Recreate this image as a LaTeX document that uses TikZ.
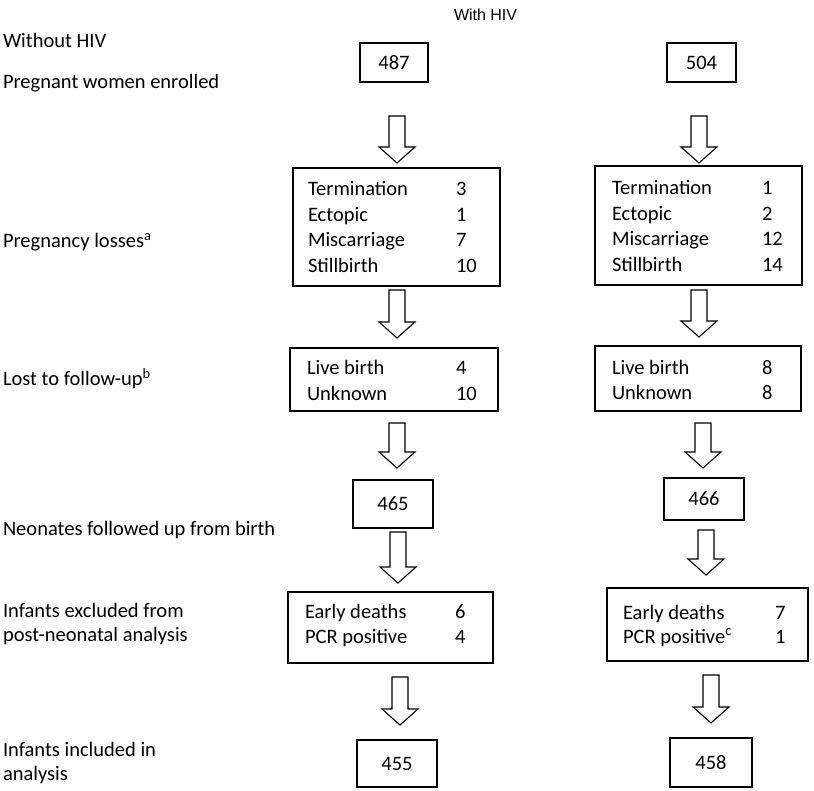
\documentclass[tikz,border=0pt]{standalone}
\usepackage{fontspec}
\setmainfont{Carlito}
\newfontfamily\arialfont{Liberation Sans}
\usetikzlibrary{calc}
\tikzset{
  txt/.style={inner sep=0pt, outer sep=0pt, anchor=base west, font=\fontsize{20.5}{25}\selectfont},
  numbox/.style={draw, line width=1.1pt, inner sep=0pt, font=\fontsize{20.5}{25}\selectfont},
  listbox/.style={draw, line width=1.1pt, inner sep=0pt},
  blockarr/.style={draw, line width=1.1pt, fill=white, line join=miter}
}
% #1 from node, #2 to node, #3 x centre (pt), #4 top y, #5 tip y (pixel coords, downward)
\newcommand\blockarrow[5]{%
  \path[blockarr] let \p1=(#1.south), \p2=(#2.north) in
    (#3-8,#4) -- (#3+8,#4) -- (#3+8,#5-16) -- (#3+18,#5-16) -- (#3,#5) -- (#3-18,#5-16) -- (#3-8,#5-16) -- cycle;}
\begin{document}
\begin{tikzpicture}[x=1pt,y=-1pt]
\useasboundingbox (0,0) rectangle (814,791);

% headers and left labels
\node[txt, font=\arialfont\fontsize{16}{19}\selectfont] (hwith) at (454,21) {With HIV};
\node[txt] (lwithout) at (3,48) {Without HIV};
\node[txt] (lenrol) at (3,89) {Pregnant women enrolled};
\node[txt] (lloss) at (3,248) {Pregnancy losses\textsuperscript{a}};
\node[txt] (llost) at (3,386) {Lost to follow-up\textsuperscript{b}};
\node[txt] (lneo) at (3,535) {Neonates followed up from birth};
\node[txt] (lexc1) at (3,617) {Infants excluded from};
\node[txt] (lexc2) at (3,641) {post-neonatal analysis};
\node[txt] (linc1) at (3,756) {Infants included in};
\node[txt] (linc2) at (3,780) {analysis};

% row 1
\node[numbox, minimum width=68pt, minimum height=39pt] (b487) at (394,62.5) {487};
\node[numbox, minimum width=69pt, minimum height=39pt] (b504) at (701.5,62.5) {504};

% pregnancy losses boxes
\node[listbox, minimum width=207pt, minimum height=118pt] (lossL) at (396.5,227) {};
\node[listbox, minimum width=207pt, minimum height=119pt] (lossR) at (698.5,225.5) {};
\node[txt] (lossL1) at (308,196) {Termination};   \node[txt] (lossL1n) at (456,196) {3};
\node[txt] (lossL2) at (308,221.5) {Ectopic};     \node[txt] (lossL2n) at (456,221.5) {1};
\node[txt] (lossL3) at (308,247) {Miscarriage};   \node[txt] (lossL3n) at (456,247) {7};
\node[txt] (lossL4) at (308,272.5) {Stillbirth};  \node[txt] (lossL4n) at (456,272.5) {10};
\node[txt] (lossR1) at (612,195) {Termination};   \node[txt] (lossR1n) at (762,195) {1};
\node[txt] (lossR2) at (612,220.5) {Ectopic};     \node[txt] (lossR2n) at (762,220.5) {2};
\node[txt] (lossR3) at (612,246) {Miscarriage};   \node[txt] (lossR3n) at (762,246) {12};
\node[txt] (lossR4) at (612,271.5) {Stillbirth};  \node[txt] (lossR4n) at (762,271.5) {14};

% lost to follow-up boxes
\node[listbox, minimum width=208pt, minimum height=63pt] (liveL) at (394,379.5) {};
\node[listbox, minimum width=206pt, minimum height=65pt] (liveR) at (698,378.5) {};
\node[txt] (liveL1) at (307,375) {Live birth};  \node[txt] (liveL1n) at (456,375) {4};
\node[txt] (liveL2) at (307,401) {Unknown};     \node[txt] (liveL2n) at (456,401) {10};
\node[txt] (liveR1) at (612,375) {Live birth};  \node[txt] (liveR1n) at (762,375) {8};
\node[txt] (liveR2) at (612,400) {Unknown};     \node[txt] (liveR2n) at (762,400) {8};

% neonates
\node[numbox, minimum width=80pt, minimum height=48pt] (b465) at (393,504) {465};
\node[numbox, minimum width=80pt, minimum height=42pt] (b466) at (704,499) {466};

% excluded
\node[listbox, minimum width=205pt, minimum height=71pt] (earlyL) at (390.5,627.5) {};
\node[listbox, minimum width=201pt, minimum height=73pt] (earlyR) at (707.5,624.5) {};
\node[txt] (earlyL1) at (305,618) {Early deaths};  \node[txt] (earlyL1n) at (455,618) {6};
\node[txt] (earlyL2) at (305,643) {PCR positive};  \node[txt] (earlyL2n) at (455,643) {4};
\node[txt] (earlyR1) at (623,619) {Early deaths};  \node[txt] (earlyR1n) at (775,619) {7};
\node[txt] (earlyR2) at (623,643) {PCR positive\textsuperscript{c}};  \node[txt] (earlyR2n) at (775,643) {1};

% included
\node[numbox, minimum width=80pt, minimum height=47pt] (b455) at (397,763.5) {455};
\node[numbox, minimum width=82pt, minimum height=49pt] (b458) at (711,762.5) {458};

% block arrows
\blockarrow{b487}{lossL}{397}{116}{163}
\blockarrow{b504}{lossR}{699}{116}{163}
\blockarrow{lossL}{liveL}{397}{290}{338}
\blockarrow{lossR}{liveR}{699}{290}{337}
\blockarrow{liveL}{b465}{397}{423}{468}
\blockarrow{liveR}{b466}{703}{423}{468}
\blockarrow{b465}{earlyL}{398}{532}{583}
\blockarrow{b466}{earlyR}{706}{530}{575}
\blockarrow{earlyL}{b455}{400}{677}{725}
\blockarrow{earlyR}{b458}{711}{675}{723}
\end{tikzpicture}
\end{document}
